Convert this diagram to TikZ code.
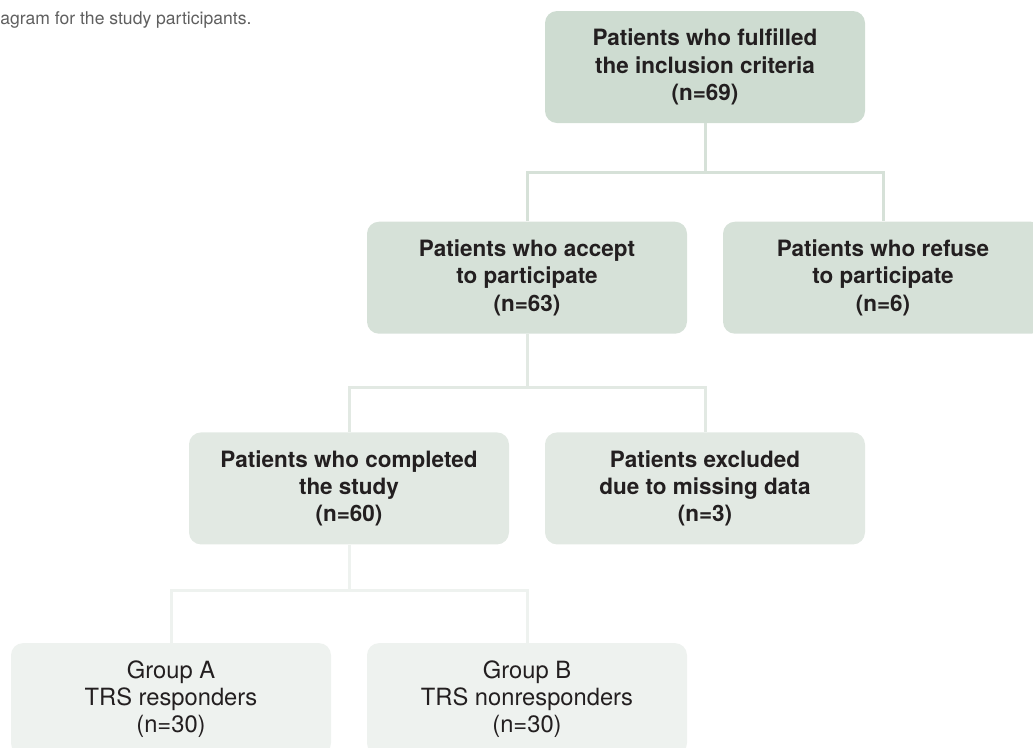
\documentclass[tikz,border=0pt]{standalone}
\usepackage{fontspec}
\setmainfont{TeX Gyre Heros}
\usepackage{xcolor}
\usetikzlibrary{positioning}
\definecolor{fillone}{RGB}{206,220,209}
\definecolor{filltwo}{RGB}{214,225,216}
\definecolor{fillthree}{RGB}{226,233,227}
\definecolor{fillfour}{RGB}{238,242,239}
\definecolor{inktext}{RGB}{35,31,32}
\definecolor{inkcap}{RGB}{95,95,95}

\begin{document}
\begin{tikzpicture}[node distance=1.96cm]
\tikzstyle{levelbox} = [rectangle, rounded corners=0.24cm, align=center,
    minimum width=6.4cm, minimum height=2.24cm,
    text centered, text=inktext,
    font=\fontsize{12.8}{15.5}\selectfont\bfseries, inner sep=2pt]
\tikzstyle{groupbox} = [levelbox, fill=fillfour,
    font=\fontsize{13.5}{15.5}\selectfont]
\tikzstyle{link} = [line width=0.06cm]

\useasboundingbox (0,0) rectangle (20.66,-14.94);

\node (caption) [anchor=base west, inner sep=0pt, text=inkcap,
    font=\fontsize{10}{12}\selectfont] at (0,-0.48)
    {agram for the study participants.};

\node (incl) [levelbox, fill=fillone] at (14.1,-1.34)
    {Patients who fulfilled\\the inclusion criteria\\(n=69)};
\node (accept) [levelbox, fill=filltwo, below=of incl, xshift=-3.56cm]
    {Patients who accept\\to participate\\(n=63)};
\node (refuse) [levelbox, fill=filltwo, below=of incl, xshift=3.56cm]
    {Patients who refuse\\to participate\\(n=6)};
\node (completed) [levelbox, fill=fillthree, below=of accept, xshift=-3.56cm]
    {Patients who completed\\the study\\(n=60)};
\node (excluded) [levelbox, fill=fillthree, below=of accept, xshift=3.56cm]
    {Patients excluded\\due to missing data\\(n=3)};
\node (groupA) [groupbox, below=of completed, xshift=-3.56cm]
    {Group A\\TRS responders\\(n=30)};
\node (groupB) [groupbox, below=of completed, xshift=3.56cm]
    {Group B\\TRS nonresponders\\(n=30)};

% --- branches ---
\draw [link, draw=filltwo] (incl.south) -- ++(0,-0.98cm) -| (accept.north);
\draw [link, draw=filltwo] (incl.south) -- ++(0,-0.98cm) -| (refuse.north);
\draw [link, draw=fillthree] (accept.south) -- ++(0,-1.06cm) -| (completed.north);
\draw [link, draw=fillthree] (accept.south) -- ++(0,-1.06cm) -| (excluded.north);
\draw [link, draw=fillfour] (completed.south) -- ++(0,-0.92cm) -| (groupA.north);
\draw [link, draw=fillfour] (completed.south) -- ++(0,-0.92cm) -| (groupB.north);
\end{tikzpicture}
\end{document}
